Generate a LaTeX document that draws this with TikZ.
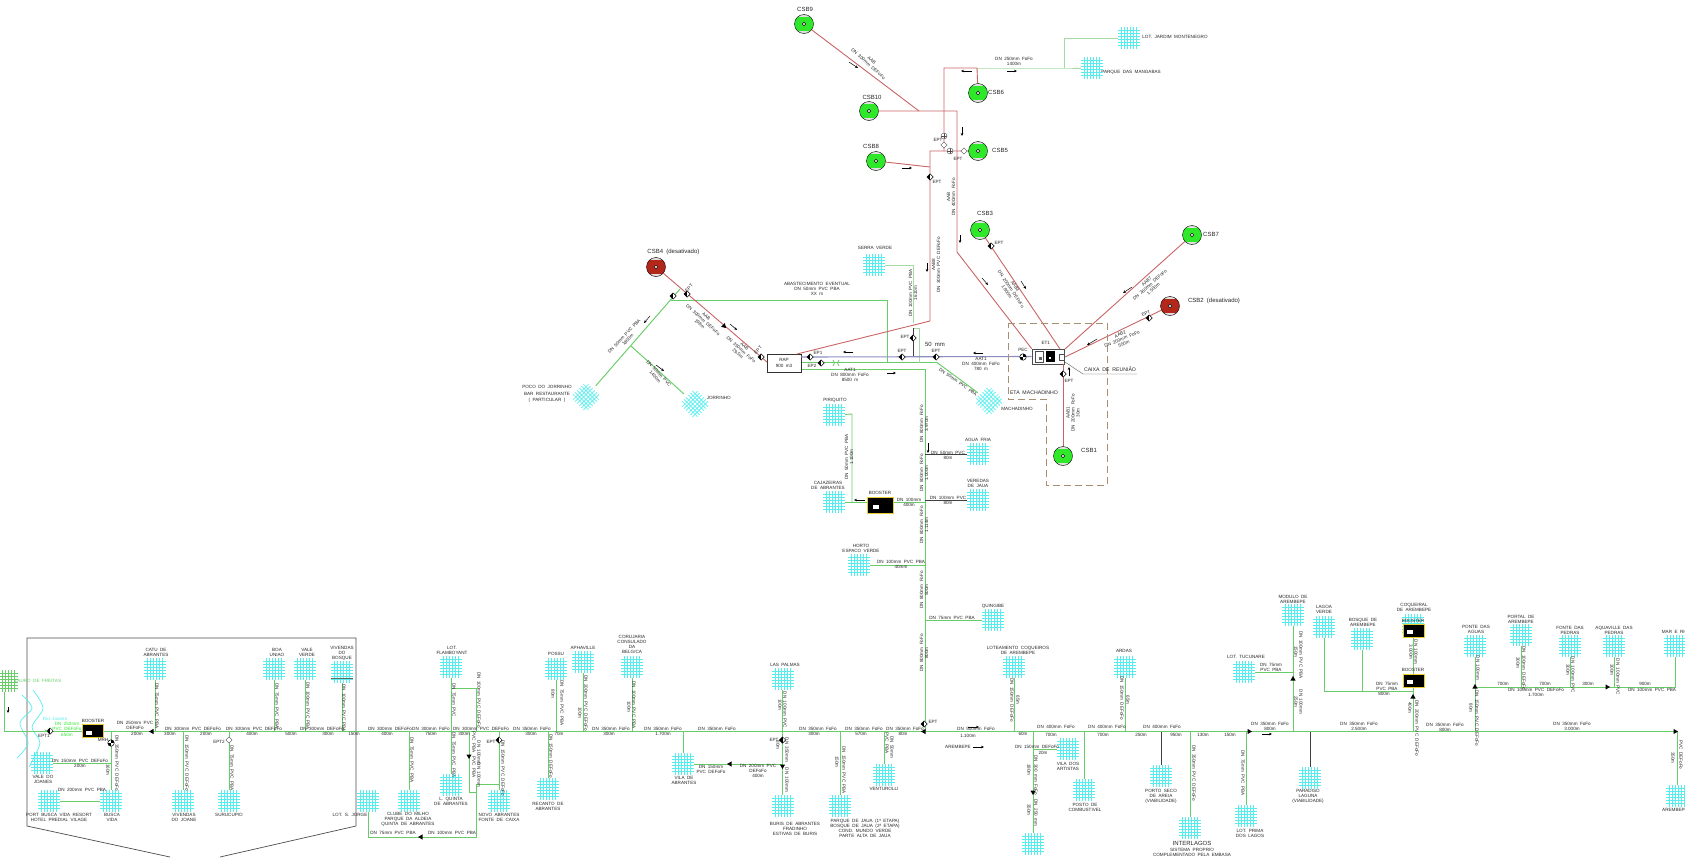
\documentclass[tikz,border=0pt]{standalone}
\usepackage{fontspec}
\setmainfont{Liberation Sans}[WordSpace=1.9]
\usetikzlibrary{shapes.geometric,arrows.meta,calc}
\definecolor{pipegreen}{HTML}{68CC68}
\definecolor{palegreen}{HTML}{A4DBA4}
\definecolor{pipered}{HTML}{C96464}
\definecolor{pipeblue}{HTML}{8A8FC0}
\definecolor{areacyan}{HTML}{55EDEE}
\definecolor{csbgreen}{HTML}{2FE82A}
\definecolor{csbred}{HTML}{B3261A}
\definecolor{etabrown}{HTML}{A88F72}
\newcommand{\ppb}{path picture bounding box}
\tikzset{
  pipe/.style={pipegreen, line width=0.95pt},
  palepipe/.style={palegreen, line width=1pt},
  redpipe/.style={pipered, line width=0.9pt},
  bluepipe/.style={pipeblue, line width=1.1pt},
  darkpipe/.style={black!75, line width=0.7pt},
  flow/.style={black, line width=0.5pt, -{Stealth[length=3pt,width=2.6pt]}},
  lbl/.style={font=\fontsize{4.6}{5}\selectfont, align=center, inner sep=0pt, text=black!85},
  lblbig/.style={font=\fontsize{6}{7}\selectfont, align=center, inner sep=0pt, text=black!85},
  area/.style={minimum size=22pt, inner sep=0pt},
  csb/.style={circle, draw=black, line width=0.4pt, minimum size=19pt, inner sep=0pt, fill=#1,
    path picture={
      \fill[black!12] (\ppb.north west) rectangle ([yshift=-2.2pt]\ppb.north east);
      \fill[black!12] (\ppb.south west) rectangle ([yshift=2.2pt]\ppb.south east);
      \draw[fill=white, line width=0.5pt] (\ppb.center) circle (1.8);
    }},
  eptmark/.style={diamond, draw=black, line width=0.5pt, fill=white, minimum size=6.5pt, inner sep=0pt,
    path picture={\fill[black] (\ppb.north) rectangle (\ppb.south west);}},
  eptopen/.style={diamond, draw=black!70, line width=0.4pt, fill=white, minimum size=6.5pt, inner sep=0pt},
  eptcross/.style={circle, draw=black!70, line width=0.4pt, fill=white, minimum size=6pt, inner sep=0pt,
    path picture={
      \draw[black!70, line width=0.4pt] (\ppb.north) -- (\ppb.south);
      \draw[black!70, line width=0.4pt] (\ppb.west) -- (\ppb.east);
    }},
  halfdisc/.style={circle, draw=black, line width=0.5pt, fill=white, minimum size=6.5pt, inner sep=0pt,
    path picture={
      \fill[black] (\ppb.north) rectangle (\ppb.east);
      \fill[black] (\ppb.south) rectangle (\ppb.west);
    }},
  trimark/.style={isosceles triangle, isosceles triangle apex angle=60, fill=black, inner sep=0pt, minimum height=4.5pt},
  boosterbox/.style={rectangle, draw=yellow!60!brown, line width=0.6pt, fill=black, inner sep=0pt},
  pics/grid/.style={code={
    \foreach \d in {-7.3,-4.5,-1.7,1.7,4.5,7.3} {
      \draw[line width=0.6pt, pic actions] (\d,-11) -- (\d,11);
      \draw[line width=0.6pt, pic actions] (-11,\d) -- (11,\d);
    }
  }},
}
\begin{document}
\begin{tikzpicture}[x=1pt,y=-1pt]
  \useasboundingbox (0,0) rectangle (1685,857);
  % Frame and river on the left
  \draw[black!70, line width=0.7pt] (170,857) -- (27,826) -- (27,638) -- (356,638) -- (356,826) -- (220,857);
  \draw[areacyan, line width=0.7pt] plot[smooth] coordinates {(22,695) (32,708) (20,723) (28,743) (17,758)};
  \draw[areacyan, line width=0.7pt] plot[smooth] coordinates {(33,690) (43,708) (32,727) (40,743) (29,767)};
  % Junctions
  \foreach \n/\x/\y in {
    mainL/4/731.5, mainR/1677/731.5, t110/110.7/731.5, t183/183/731.5, t229/229/731.5,
    t409/409/731.5, t451/451/731.5, t469/469/731.5, t476/476/731.5, t499/499/731.5, t548/548/731.5,
    t683/683/731.5, t782/782.5/731.5, t840/840/731.5, t884/884/731.5, t925/925/731.5,
    t1033/1033/731.5, t1084/1084/731.5, t1161/1161/731.5, t1190/1190/731.5, t1246/1246/731.5,
    t1293/1293/731.5, t1310/1310/731.5, t1413/1413/731.5, t1475/1475/731.5,
    a476/476/688, a451/451/688, b469/469/792, b476/476/792, c476/476/784, c499/499/784,
    d476/476/837, d368/368/837, v782/782.5/764, v1033/1033/749, y763/110.7/763, y801/110.7/801,
    y672/1293/672, g1324/1324/691, g1362/1362/691, g1413/1413/691,
    h1475/1475/687, h1521/1521/687, h1570/1570/687, h1614/1614/687, h1675/1675/687,
    k846/852/414, k852/852/502, k893/925/502, k454/925/454, k500/925/500, k565/925/565, k620/925/620,
    top370/925/369, rapG/801/369, rapV/801/362.5, rapB/801/357, m937/937/362.5,
    p680/680/289, p670/670.5/300, p887/887/300, p887b/887/362.5, p631/631/346,
    s913/913/265, s913b/913/323, u913/913/328, u919/919/328, u919b/919/362.5, w913/913/357,
    g977/977/68, g1064/1064/68, g1064t/1064/38,
    r919/919/111, r957/957/111, r957b/957/252, r930a/930/167, r930t/930/151, r930b/930/321,
    r944t/944/68, r944b/944/151, rapN/797/354, rapE/767/362,
    cx1/1065/362, cx2/1083/374, cx3/1137/374, gridlineL/331/678, gridlineR/353/678,
    et3/1060/349, et7/1065/349, et2/1065/357, et1b/1063/364
  } {
    \coordinate (\n) at (\x,\y);
  }
  % Consumer areas
  \foreach \n/\x/\y/\lx/\ly/\txt in {
    catu/155/669/156/652/{CATU DE\\ABRANTES},
    boauniao/274/669/277/652/{BOA\\UNIAO},
    valeverde/305/669/307/652/{VALE\\VERDE},
    vivbosque/342/672/342/653/{VIVENDAS\\DO\\BOSQUE},
    valejoanes/42/763/43/779/{VALE DO\\JOANES},
    portbusca/49/801/59/817/{PORT BUSCA VIDA RESORT\\HOTEL PREDIAL VILAGE},
    buscavida/111/801/112/817/{BUSCA\\VIDA},
    vivjoanes/183/801/184/817/{VIVENDAS\\DO JOANE},
    surucupio/229/801/229/815/{SURUCUPIO},
    sjorge/368/801/350/815/{LOT. S. JORGE},
    clube/409/801/408/819/{CLUBE DO MILHO\\PARQUE DA ALDEIA\\QUINTA DE ABRANTES},
    flamboyant/451/667/452/650/{LOT.\\FLAMBOYANT},
    lquinta/451/785/451/801/{L. QUINTA\\DE ABRANTES},
    novoabr/499/801/499/817/{NOVO ABRANTES\\FONTE DE CAIXA},
    recanto/548/789/548/806/{RECANTO DE\\ABRANTES},
    possu/556/669/556/654/{POSSU},
    aphaville/583/662/583/648/{APHAVILLE},
    corujaria/632/667/632/644/{CORUJARIA\\CONSULADO\\DA\\BELGICA},
    vilaabr/683/764/684/780/{VILA DE\\ABRANTES},
    laspalmas/782.5/679/785/665/{LAS PALMAS},
    buris/782.5/806/795/829/{BURIS DE ABRANTES\\FRADINHO\\ESTIVAS DE BURIS},
    parquejaua/840/806/865/828/{PARQUE DE JAUA (1ª ETAPA)\\BOSQUE DE JAUA (2ª ETAPA)\\COND. MUNDO VERDE\\PARTE ALTA DE JAUA},
    venturolli/884/775/884/789/{VENTUROLLI},
    loteamento/1014/667/1018/650/{LOTEAMENTO COQUEIROS\\DE AREMBEPE},
    ardas/1125/667/1124/651/{ARDAS},
    vilaart/1068/749/1068/766/{VILA DOS\\ARTISTAS},
    posto/1084/790/1085/807/{POSTO DE\\COMBUSTIVEL},
    portoseco/1161/776/1161/796/{PORTO SECO\\DE AREIA\\(VIABILIDADE)},
    modulo/1293/615/1293/599/{MODULO DE\\AREMBEPE},
    lagoaverde/1324/627/1324/609/{LAGOA\\VERDE},
    bosquearem/1362/639/1363/622/{BOSQUE DE\\AREMBEPE},
    coqueiral/1413/625/1414/607/{COQUEIRAL\\DE AREMBEPE},
    tucunare/1244/672/1246/657/{LOT. TUCUNARE},
    ponteaguas/1475/646/1476/629/{PONTE DAS\\AGUAS},
    portalarem/1521/635/1521/619/{PORTAL DE\\AREMBEPE},
    fontepedras/1570/646/1570/630/{FONTE DAS\\PEDRAS},
    aquaville/1614/646/1614/630/{AQUAVILLE DAS\\PEDRAS},
    marerio/1675/646/1675/632/{MAR E RIO},
    paradiso/1310/778/1308/796/{PARADISO\\LAGUNA\\(VIABILIDADE)},
    lotprima/1246/816/1250/833/{LOT. PRIMA\\DOS LAGOS},
    arembepe/1677/796/1675/810/{AREMBEPE},
    piriquito/834/415/835/400/{PIRIQUITO},
    cajazeiras/834/502/828/485/{CAJAZEIRAS\\DE ABRANTES},
    aguafria/978/454/978/440/{AGUA FRIA},
    veredas/978/500/978/483/{VEREDAS\\DE JAUA},
    horto/859/565/861/548/{HORTO\\ESPACO VERDE},
    quingibe/993/620/993/606/{QUINGIBE},
    serraverde/874/265/875/248/{SERRA VERDE},
    mangabas/1092/68/1131/72/{PARQUE DAS MANGABAS},
    lotjardim/1129/38/1175/37/{LOT. JARDIM MONTENEGRO},
    machadinho/989/401/1017/409/{MACHADINHO},
    poco/586/397/547/394/{POCO DO JORRINHO\\[1.5pt]BAR RESTAURANTE\\[1.5pt]( PARTICULAR )},
    interlagos/1190/828/1192/852/{SISTEMA PROPRIO\\COMPLEMENTADO PELA EMBASA},
    jorrinho/695/404/720/398/{JORRINHO}
  } {
    \node[area] (\n) at (\x,\y) {};
    \node[lbl] (\n-l) at (\lx,\ly) {\txt};
  }
  \node[area] (sulbaixo) at (1033,844) {};
  \node[area] (lauro) at (7,681) {};
  \foreach \n in {catu,boauniao,valeverde,vivbosque,valejoanes,portbusca,buscavida,vivjoanes,surucupio,sjorge,clube,flamboyant,lquinta,novoabr,recanto,possu,aphaville,corujaria,vilaabr,laspalmas,buris,parquejaua,venturolli,loteamento,ardas,vilaart,posto,portoseco,modulo,lagoaverde,bosquearem,coqueiral,tucunare,ponteaguas,portalarem,fontepedras,aquaville,marerio,paradiso,lotprima,arembepe,piriquito,cajazeiras,aguafria,veredas,horto,quingibe,serraverde,mangabas,lotjardim,interlagos,sulbaixo} {
    \pic[draw=areacyan] at (\n) {grid};
  }
  \foreach \n in {machadinho,poco,jorrinho} {
    \pic[draw=areacyan,rotate=45] at (\n) {grid};
  }
  \pic[draw=pipegreen] at (lauro) {grid};
  \draw[black!60, line width=0.7pt] (gridlineL) -- (gridlineR);
  \node[lbl, text=pipegreen] (lauro-l) at (38,681) {LAURO DE FREITAS};
  \node[lblbig] (interlagos-t) at (1192,843) {INTERLAGOS};
  % Main line and branches
  \draw[pipe] (lauro.south -| mainL) -- (mainL) -- (mainR);
  \foreach \n/\t in {catu/mainL, boauniao/mainL, valeverde/mainL, vivbosque/mainL, possu/mainL, aphaville/mainL, corujaria/mainL, laspalmas/mainL, ardas/mainL, loteamento/mainL, modulo/mainL,
    buscavida/mainL, vivjoanes/mainL, surucupio/mainL, clube/mainL, flamboyant/mainL, lquinta/mainL, novoabr/mainL, recanto/mainL, vilaabr/mainL, buris/mainL, parquejaua/mainL, venturolli/mainL, posto/mainL, sulbaixo/mainL, interlagos/mainL, lotprima/mainL} {
    \draw[pipe] (\n) -- (\n |- \t);
  }
  \draw[pipe] (arembepe) -- (arembepe |- mainR);
  \draw[pipe] (valejoanes) -- (y763);
  \draw[pipe] (portbusca) -- (buscavida);
  \draw[pipe] (a451) -- (a476) -- (t476);
  \draw[pipe] (t469) -- (b469) -- (b476);
  \draw[pipe] (c499) -- (c476) -- (d476) -- (d368) -- (sjorge);
  \draw[pipe] (vilaabr) -- (v782);
  \draw[pipe] (vilaart) -- (v1033);
  \draw[pipe] (tucunare) -- (y672);
  \draw[pipe] (lagoaverde) -- (g1324) -- (g1413);
  \draw[pipe] (bosquearem) -- (g1362);
  \draw[pipe] (t1413) -- (coqueiral);
  \draw[pipe] (t1475) -- (ponteaguas);
  \draw[pipe] (h1475) -- (h1675) -- (marerio);
  \draw[pipe] (portalarem) -- (h1521);
  \draw[pipe] (fontepedras) -- (h1570);
  \draw[pipe] (aquaville) -- (h1614);
  \draw[darkpipe] (paradiso) -- (t1310);
  \draw[darkpipe] (portoseco) -- (t1161);
  % Trunk to the north
  \draw[pipe] (rapG) -- (top370) -- (t925);
  \draw[pipe] (cajazeiras) -- (k893);
  \draw[pipe] (piriquito) -- (k846) -- (k852);
  \draw[pipe] (horto) -- (k565);
  \draw[pipe] (quingibe) -- (k620);
  \draw[darkpipe] (aguafria) -- (k454);
  \draw[darkpipe] (veredas) -- (k500);
  \draw[pipe] (rapV) -- (m937) -- (machadinho);
  \draw[pipe] (poco) -- (p680);
  \draw[pipe] (p670) -- (p887) -- (p887b);
  \draw[pipe] (p631) -- (jorrinho);
  \draw[palepipe] (serraverde) -- (s913) -- (s913b);
  \draw[palepipe] (u913) -- (u919) -- (u919b);
  \draw[darkpipe] (u913) -- (w913);
  \draw[palepipe] (g977) -- (g1064) -- (mangabas);
  \draw[palepipe] (g1064) -- (g1064t) -- (lotjardim);
  % Wells and treatment plant
  \foreach \n/\x/\y/\c/\lx/\ly/\txt in {
    csb9/804/24/csbgreen/805/9/CSB9, csb10/869/111/csbgreen/872/97/CSB10,
    csb6/978/93/csbgreen/996/92/CSB6, csb5/978/151/csbgreen/1000/150/CSB5,
    csb8/876/161/csbgreen/871/146/CSB8, csb3/980/230/csbgreen/985/213/CSB3,
    csb7/1192/235/csbgreen/1211/234/CSB7, csb1/1063/456/csbgreen/1089/450/CSB1,
    csb2/1170/306/csbred/1214/301/{CSB2 (desativado)},
    csb4/656/267/csbred/675/252/{CSB4 (desativado)}
  } {
    \node[csb=\c] (\n) at (\x,\y) {};
    \node[lblbig] (\n-l) at (\lx,\ly) {\txt};
  }
  \node[draw=black!70, fill=white, line width=0.6pt, minimum width=32pt, minimum height=15pt, inner sep=0pt] (et1) at (1048,356.5) {};
  \node[draw=black!70, fill=white, line width=0.4pt, minimum width=8pt, minimum height=11pt, inner sep=0pt] (et1a) at (1039.5,356.5) {};
  \node[fill=black!60, minimum size=3pt, inner sep=0pt] (et1b1) at (1040,358) {};
  \node[fill=black, minimum width=9pt, minimum height=11pt, inner sep=0pt] (et1c) at (1050,356.5) {};
  \node[fill=white, minimum size=2pt, inner sep=0pt] (et1c1) at (1050,358) {};
  \node[draw=black!70, fill=white, line width=0.4pt, minimum width=5pt, minimum height=6pt, inner sep=0pt] (caixa) at (1061.5,357) {};
  \node[lbl, draw=black!80, fill=white, line width=0.6pt, minimum width=34pt, minimum height=18pt] (rap) at (784,363) {RAP\\[1.5pt]900 m3};
  \draw[redpipe] (csb9) -- (r919);
  \draw[redpipe] (csb10) -- (r957) -- (r957b) -- (et1.north west);
  \draw[redpipe] (csb6) -- (g977) -- (r944t) -- (r944b);
  \draw[redpipe] (csb8) -- (r930a);
  \draw[redpipe] (csb5) -- (r930t) -- (r930b) -- (rapN);
  \draw[redpipe] (csb3) -- (et3);
  \draw[redpipe] (csb7) -- (et7);
  \draw[redpipe] (csb2) -- (et2);
  \draw[redpipe] (csb1) -- (et1b);
  \draw[redpipe] (csb4) -- (rapE);
  \draw[bluepipe] (rapB) -- (et1.west);
  \draw[black!70, line width=0.4pt] (cx1) -- (cx2) -- (cx3);
  \draw[etabrown, line width=0.9pt, dash pattern=on 7pt off 4pt] (1008,323) -- (1107,323) -- (1107,485) -- (1046,485) -- (1046,399) -- (1008,399) -- cycle;
  % Boosters
  \foreach \n/\x/\y/\w/\h/\lx/\ly in {
    boosterA/93/731/21/13/93/721, boosterB/880/505/26/16/880/493,
    boosterC/1413.5/630.5/21/13/1413/621, boosterD/1413.5/680.5/21/13/1413/670
  } {
    \node[boosterbox, minimum width=\w pt, minimum height=\h pt] (\n) at (\x,\y) {};
    \node[fill=white, minimum width=6pt, minimum height=4pt, inner sep=0pt] (\n-w) at ($(\n)+(-4,1.5)$) {};
    \node[lbl] (\n-l) at (\lx,\ly) {BOOSTER};
  }
  % Valves
  \foreach \x/\y [count=\i] in {50/731, 930/177, 924/724, 499/740, 782.5/740, 991/246, 1149/318, 1063/374, 810/357, 821/363, 902/357, 936/357, 913/338, 673/296, 687/294, 761/357} {
    \node[eptmark] (ept\i) at (\x,\y) {};
  }
  \foreach \x/\y [count=\i] in {229/740, 944/145, 964/151} {
    \node[eptopen] (eo\i) at (\x,\y) {};
  }
  \foreach \x/\y [count=\i] in {944/136, 950/151} {
    \node[eptcross] (ec\i) at (\x,\y) {};
  }
  \node[halfdisc] (mrh) at (111,743) {};
  \node[halfdisc] (pec) at (1023,357) {};
  \draw[pipegreen, line width=0.8pt] (833,360) .. controls (835,362) and (835,364) .. (833,366);
  \draw[pipegreen, line width=0.8pt] (839,360) .. controls (837,362) and (837,364) .. (839,366);
  % Flow triangles
  \foreach \x/\y/\r [count=\i] in {152/731.5/180, 469/756/270, 421/837/180, 730/764/180, 782.5/766/270, 924/731.5/180, 1033/792/270, 1249/731.5/0, 1293/679/90, 1413/697/90, 1475/687/90, 1607/687/0, 1675/731.5/0, 724/326/-45} {
    \node[trimark, rotate=\r] (tri\i) at (\x,\y) {};
  }
  % Flow arrows
  \foreach \a/\b/\c/\d [count=\i] in {
    8/707/8/713, 972/71/961/71, 1007/71/1017/71, 962/127/962/136, 849/62/858/68, 902/168/912/168,
    960/235/960/243, 927/263/927/272, 982/278/988/285, 1021/281/1026/289, 1132/287/1123/293, 1097/339/1087/345,
    1069/376/1069/367, 983/353/973/353, 887/373/896/373, 928/443/928/453, 865/500/854/500,
    730/324/737/330, 650/316/644/323, 656/365/664/371, 853/352/843/352,
    973/747/984/747, 968/727/979/727, 1262/734/1272/734
  } {
    \coordinate (fs\i) at (\a,\b);
    \coordinate (fe\i) at (\c,\d);
    \draw[flow] (fs\i) -- (fe\i);
  }
  \coordinate (fs0) at (38,731);
  \coordinate (fe0) at (48,731);
  \draw[pipegreen, line width=0.6pt, -{Stealth[length=3.5pt,width=3pt]}] (fs0) -- (fe0);
  % Horizontal pipe labels
  \foreach \x/\y/\txt [count=\i] in {
    135/725/{DN 250mm PVC\\DEFoFo}, 137/734/200m, 193/729/{DN 300mm PVC DEFoFo}, 170/734/300m, 206/734/200m,
    254/729/{DN 300mm PVC DEFoFo}, 252/734/400m, 291/734/500m, 322/729/{DN 300mm DEFoFo}, 328/734/300m, 354/734/150m,
    390/729/{DN 300mm DEFoFo}, 387/734/400m, 431/729/{DN 300mm FoFo}, 431/734/750m, 481/729/{DN 300mm PVC DEFoFo}, 464/734/300m,
    532/729/{DN 350mm FoFo}, 531/734/300m, 559/734/70m, 611/729/{DN 350mm FoFo}, 609/734/300m, 663/729/{DN 350mm FoFo}, 663/734/1.700m,
    717/729/{DN 350mm FoFo}, 818/729/{DN 350mm FoFo}, 814/734/300m, 864/729/{DN 350mm FoFo}, 861/734/570m, 905/729/{DN 350mm FoFo}, 903/734/80m,
    976/729/{DN 500mm FoFo}, 968/736/1.100m, 958/747/AREMBEPE, 1023/734/60m, 1056/727/{DN 400mm FoFo}, 1051/735/700m,
    1107/727/{DN 400mm FoFo}, 1103/735/700m, 1162/727/{DN 400mm FoFo}, 1141/735/250m, 1176/735/950m, 1203/735/130m, 1230/735/150m,
    1270/726/{DN 350mm FoFo\\800m}, 1359/726/{DN 350mm FoFo\\2.500m}, 1445/727/{DN 350mm FoFo\\800m}, 1572/726/{DN 350mm FoFo\\3.000m},
    80/763.5/{DN 150mm PVC DEFoFo\\200m}, 82/790/{DN 200mm PVC PBA}, 393/833/{DN 75mm PVC PBA}, 452/833/{DN 100mm PVC PBA},
    711/769/{DN 150mm\\PVC DEFoFo}, 758/771/{DN 200mm PVC\\DEFoFo\\400m}, 1037/747/{DN 150mm DEFoFo}, 1043/753/20m,
    1271/667/{DN 75mm\\PVC PBA}, 1387/686/{DN 75mm\\PVC PBA}, 1384/694/800m,
    1503/684/700m, 1545/684/700m, 1588/684/300m, 1645/684/900m, 1536/692/{DN 100mm PVC DEFoFo\\1.700m}, 1652/690/{DN 100mm PVC PBA},
    948/455/{DN 50mm PVC\\80m}, 948/500/{DN 100mm PVC\\80m}, 909/502/{DN 100mm\\400m}, 901/564/{DN 100mm PVC PBA\\40mm}, 952/618/{DN 75mm PVC PBA},
    1014/61/{DN 250mm FoFo\\1400m}, 817/289/{ABASTECIMENTO EVENTUAL\\DN 50mm PVC PBA\\XX m}, 850/375/{AAT1\\DN 800mm FoFo\\8500 m}, 981/364/{AAT1\\DN 400mm FoFo\\780 m},
    44/736/EPT1, 219/742/EPT2, 103/740/MRH, 491/742/EPT, 774/740/EPT, 933/722/EPT, 938/140/EPT, 958/159/EPT, 937/182/EPT, 999/243/EPT,
    1023/350/PEC, 936/351/EPT, 902/351/EPT, 905/337/EPT, 1069/381/EPT, 818/353/EP1, 812/366/EP2, 1047/343/ET1
  } {
    \node[lbl] (hl\i) at (\x,\y) {\txt};
  }
  \node[lbl, text=areacyan] (rio-l) at (55,719) {Rio Joanes};
  \node[lbl, text=csbgreen] (greenl) at (67,729.5) {DN 250mm\\PVC DEFoFo\\[1.5pt]650m};
  \node[lblbig] (mm-l) at (935,344) {50 mm};
  \node[lbl, font=\fontsize{5.2}{6}\selectfont] (eta-l) at (1034,393) {ETA MACHADINHO};
  \node[lbl, font=\fontsize{5.2}{6}\selectfont] (caixa-l) at (1110,369) {CAIXA DE REUNIÃO};
  % Turned pipe labels
  \foreach \x/\y/\r/\txt [count=\i] in {
    157/706/-90/{DN 75mm PVC PBA}, 277/706/-90/{DN 75mm PVC PBA}, 308/706/-90/{DN 100mm PVC PBA}, 344/708/-90/{DN 100mm PVC PBA},
    117/763/-90/{DN 350mm PVC DEFoFo}, 108/770/-90/160m, 187/763/-90/{DN 150mm PVC DEFoFo}, 232/768/-90/{DN 75mm PVC PBA},
    412/760/-90/{DN 75mm PVC PBA}, 454/700/-90/{DN 75mm PVC}, 454/755/-90/{DN 75mm PVC PBA}, 479/700/-90/{DN 100mm PVC DEFoFo},
    474/742/-90/{PVC PBA}, 479/753/-90/{DN 100mm}, 474/767/-90/{PVC PBA}, 479/775/-90/{DN 100mm}, 503/768/-90/{DN 150mm PVC DEFoFo},
    562/703/-90/{DN 75mm PVC PBA}, 553/694/-90/80m, 586/703/-90/{DN 200mm PVC DEFoFo}, 580/713/-90/100m, 634/705/-90/{DN 100mm PVC PBA}, 629/707/-90/100m,
    551/756/-90/{DN 150mm DEFoFo}, 785/710/-90/{DN 100mm PVC}, 780/705/-90/100m, 787/750/-90/{DN 350mm}, 778/745/-90/80m, 787/780/-90/{DN 100mm},
    844/770/-90/{DN 150mm PVC PBA}, 837/762/-90/150m, 892/747/-90/{DN 50mm}, 887/743/-90/{PVC PBA},
    1012/700/-90/{DN 150mm DEFoFo}, 1018/700/-90/65m, 1122/698/-90/{DN 150mm DEFoFo}, 1128/700/-90/65m,
    1036/775/-90/{DN 300 mm FoFo}, 1029/770/-90/180m, 1036/813/-90/{DN 250 mm}, 1029/810/-90/350m, 1194/773/-90/{DN 350mm PVC DEFoFo},
    1243/773/-90/{DN 75mm PVC PBA}, 1301/655/-90/{DN 100mm PVC PBA}, 1296/652/-90/150m, 1301/702/-90/{DN 100mm}, 1296/702/-90/250m,
    1416/652/-90/{DN 100mm}, 1411/652/-90/3.000m, 1417/728/-90/{DN 200mm PVC DEFoFo}, 1410/708/-90/400m,
    1478/668/-90/{DN 100mm}, 1477/718/-90/{DN 150mm PVC DEFoFo}, 1471/708/-90/80m, 1524/668/-90/{DN 100mm DEFoFo}, 1518/663/-90/300m,
    1573/675/-90/{DN 100mm PVC}, 1568/670/-90/300m, 1618/677/-90/{DN 100mm PVC}, 1612/670/-90/300m, 1681/755/-90/{PVC DEFoFo}, 1673/758/-90/350m,
    924/424/90/{DN 800mm FoFo\\3.970m}, 924/473/90/{DN 800mm FoFo\\1.000m}, 924/525/90/{DN 800mm FoFo\\1.114m}, 924/590/90/{DN 800mm FoFo\\500m}, 924/653/90/{DN 800mm FoFo\\800m},
    849/457/90/{DN 50mm PVC PBA\\1.100m}, 913/293/90/{DN 100mm PVC PBA\\1610m}, 951/197/90/{AAB\\DN 400mm FoFo}, 936/265/90/{AAB8\\DN 300mm PVC DEFoFo},
    1073/413/90/{AAB1\\DN 200mm FoFo\\30m},
    870/62/-42/{AAB\\DN 300mm DEFoFo}, 703/320/-42/{AAB\\DN 300mm DEFoFo\\198m}, 741/350/-42/{AAB\\DN 350mm FoFo\\29,5m},
    626/338/47/{DN 50mm PVC PBA\\1800m}, 657/375/-47/{DN 50mm PVC\\1400m}, 958/382/-35/{DN 50mm PVC PBA},
    1011/289/-57/{AAB3\\DN 200mm DEFoFo\\1.800m}, 1150/285/42/{AAB7\\DN 260mm DEFoFo\\1.500m}, 1122/339/22/{AAB2\\DN 200mm FoFo\\550m},
    689/288/45/EPT, 758/350/45/EPT, 1147/313/25/EPT
  } {
    \node[lbl, rotate=\r] (tl\i) at (\x,\y) {\txt};
  }
\end{tikzpicture}
\end{document}
